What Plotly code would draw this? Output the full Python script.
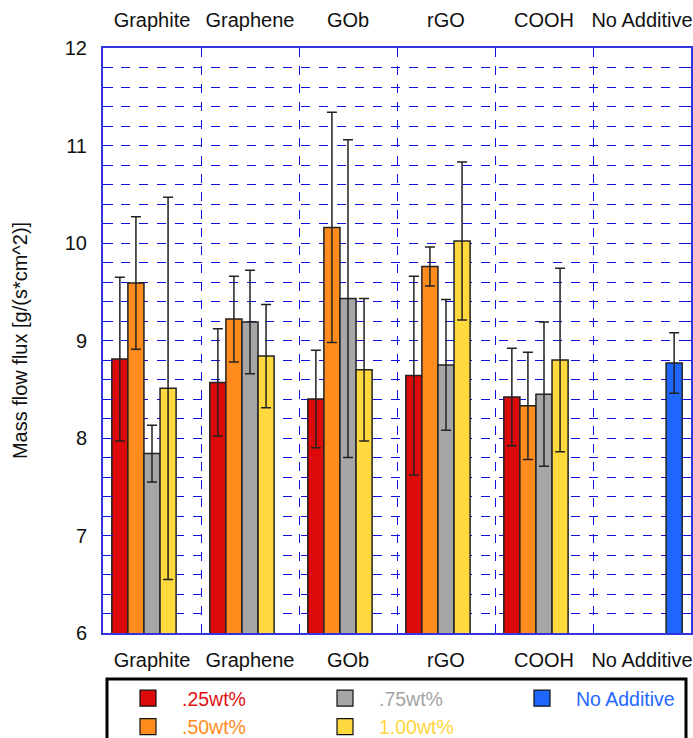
import plotly.graph_objects as go

categories = ["Graphite", "Graphene", "GOb", "rGO", "COOH", "No Additive"]

wt025 = [8.81, 8.57, 8.40, 8.64, 8.42, None]
err025 = [0.84, 0.55, 0.50, 1.02, 0.50, None]
wt050 = [9.59, 9.22, 10.16, 9.76, 8.33, None]
err050 = [0.68, 0.44, 1.18, 0.20, 0.55, None]
wt075 = [7.84, 9.19, 9.43, 8.75, 8.45, None]
err075 = [0.29, 0.53, 1.63, 0.67, 0.74, None]
wt100 = [8.51, 8.84, 8.70, 10.02, 8.80, None]
err100 = [1.96, 0.53, 0.73, 0.81, 0.94, None]
noadd = [None, None, None, None, None, 8.77]
errnoadd = [None, None, None, None, None, 0.31]

series = [
    (".25wt%", wt025, err025, "#DD0A0A", "#E01010", 1),
    (".50wt%", wt050, err050, "#FF8C1C", "#FF8C22", 4),
    (".75wt%", wt075, err075, "#A6A6A6", "#A3A3A3", 2),
    ("1.00wt%", wt100, err100, "#FFD93E", "#FFD640", 5),
    ("No Additive", noadd, errnoadd, "#1F66FF", "#2568FF", 3),
]

FONT = "Liberation Sans, Arial, sans-serif"
BLUE = "#1010DD"

W, H = 693, 738
ML, MR, MT, MB = 103, 2, 48, 105
PW, PH = W - ML - MR, H - MT - MB

fig = go.Figure()
for name, vals, errs, col, tcol, rank in series:
    fig.add_trace(go.Bar(
        x=categories, y=vals, name=name, showlegend=False,
        marker=dict(color=col, line=dict(color="#222222", width=1.5)),
        error_y=dict(type="data", array=errs, visible=True,
                     color="#222222", thickness=1.5, width=5),
    ))
# legend entries
for name, vals, errs, col, tcol, rank in series:
    fig.add_trace(go.Scatter(
        x=[None], y=[None], mode="markers",
        name=f"<span style='color:{tcol}'>{name}</span>",
        legendrank=rank,
        marker=dict(symbol="square", size=16, color=col,
                    line=dict(color="#111111", width=1.2)),
    ))
# top category axis carrier
fig.add_trace(go.Scatter(x=categories, y=[None] * len(categories), xaxis="x2",
                         mode="markers", showlegend=False, hoverinfo="skip"))

fig.update_layout(
    width=W, height=H,
    margin=dict(l=ML, r=MR, t=MT, b=MB, autoexpand=False),
    paper_bgcolor="white", plot_bgcolor="white",
    font=dict(family=FONT, size=20, color="#111111"),
    barmode="group", bargap=0.18, bargroupgap=0,
    xaxis=dict(
        type="category", categoryorder="array", categoryarray=categories,
        range=[-0.5, 5.5], tickson="boundaries", automargin=False, tickangle=0,
        showgrid=True, gridcolor=BLUE, griddash="dash", gridwidth=1,
        showline=True, linecolor="#3333E0", linewidth=2, mirror="allticks",
        ticks="inside", ticklen=4, tickcolor=BLUE,
        tickfont=dict(size=20, color="#111111"), ticklabelstandoff=8,
        zeroline=False,
    ),
    xaxis2=dict(
        type="category", categoryorder="array", categoryarray=categories,
        range=[-0.5, 5.5], overlaying="x", side="top", anchor="y",
        automargin=False, tickangle=0,
        showgrid=False, showline=False, ticks="",
        tickfont=dict(size=20, color="#111111"), ticklabelstandoff=16,
    ),
    yaxis=dict(
        range=[6, 12], dtick=1, tick0=6, automargin=False,
        showgrid=True, gridcolor=BLUE, griddash="dash", gridwidth=1,
        showline=True, linecolor="#3333E0", linewidth=2, mirror="allticks",
        ticks="inside", ticklen=10, tickcolor=BLUE,
        minor=dict(dtick=0.2, showgrid=True, gridcolor=BLUE, griddash="dash",
                   gridwidth=1, ticks="inside", ticklen=5, tickcolor=BLUE),
        tickfont=dict(size=20, color="#111111"), ticklabelstandoff=10,
        title=dict(text="Mass flow flux [g/(s*cm^2)]", font=dict(size=20),
                   standoff=32),
        zeroline=False,
    ),
    legend=dict(
        orientation="h", xref="container", yref="container",
        x=114 / W, y=1 - 679 / H, xanchor="left", yanchor="top",
        entrywidth=124, itemwidth=58, font=dict(size=19.5), tracegroupgap=0,
        bgcolor="rgba(0,0,0,0)", borderwidth=0, itemclick=False,
    ),
    shapes=[dict(type="rect", xref="paper", yref="paper",
                 x0=(107 - ML) / PW, x1=(686 - ML) / PW,
                 y0=(MT + PH - 679) / PH, y1=(MT + PH - 750) / PH,
                 line=dict(color="black", width=3), fillcolor="rgba(0,0,0,0)")],
)

fig.write_html(
    "out.html",
    config={"displayModeBar": False},
    post_script="document.body.style.margin='0';"
                "document.documentElement.style.overflow='hidden';",
)
